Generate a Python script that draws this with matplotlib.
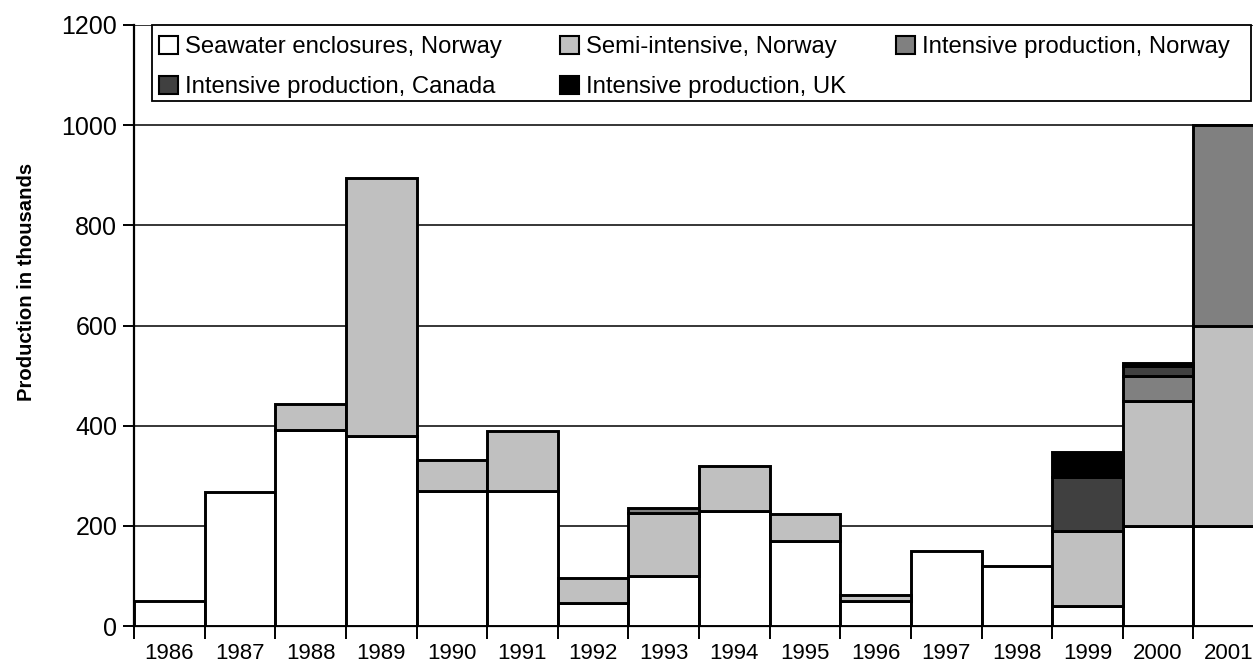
import matplotlib
matplotlib.use("Agg")
import matplotlib.pyplot as plt
import matplotlib.patches as mpatches
import numpy as np

plt.rcParams['font.family'] = ['Liberation Sans', 'DejaVu Sans']

years = [1986, 1987, 1988, 1989, 1990, 1991, 1992, 1993, 1994, 1995,
         1996, 1997, 1998, 1999, 2000, 2001]
seawater_norway = [50, 267, 392, 380, 270, 270, 45, 100, 230, 170, 50, 150, 120, 40, 200, 200]
semi_norway = [0, 0, 51, 515, 62, 120, 51, 125, 90, 53, 12, 0, 0, 150, 250, 400]
intensive_norway = [0, 0, 0, 0, 0, 0, 0, 10, 0, 0, 0, 0, 0, 0, 50, 400]
intensive_canada = [0, 0, 0, 0, 0, 0, 0, 0, 0, 0, 0, 0, 0, 107, 20, 0]
intensive_uk = [0, 0, 0, 0, 0, 0, 0, 0, 0, 0, 0, 0, 0, 51, 6, 0]

series = [
    ("Seawater enclosures, Norway", seawater_norway, "#ffffff"),
    ("Semi-intensive, Norway", semi_norway, "#c0c0c0"),
    ("Intensive production, Norway", intensive_norway, "#808080"),
    ("Intensive production, Canada", intensive_canada, "#404040"),
    ("Intensive production, UK", intensive_uk, "#000000"),
]

W, H = 1253, 669
fig = plt.figure(figsize=(W / 100, H / 100), dpi=100)
ax = fig.add_axes([134 / W, 1 - 626 / H, 1130 / W, 601 / H])

x = np.arange(len(years))
bottom = np.zeros(len(years))
handles = {}
for name, vals, col in series:
    v = np.array(vals, dtype=float)
    mask = v > 0
    ax.bar(x[mask], v[mask], width=1.0, bottom=bottom[mask], color=col,
           edgecolor="black", linewidth=2.1, zorder=3)
    handles[name] = mpatches.Patch(facecolor=col, edgecolor="black", linewidth=1.5, label=name)
    bottom += v

ax.set_xlim(-0.5, len(years) - 0.5)
ax.set_ylim(0, 1200)
ax.set_yticks(np.arange(0, 1201, 200))
ax.yaxis.grid(True, color="black", linewidth=1.1, zorder=0)
ax.set_axisbelow(True)

ax.set_xticks(np.arange(-0.5, len(years), 1.0))
ax.set_xticklabels([])
ax.set_xticks(x, minor=True)
ax.set_xticklabels([str(y) for y in years], minor=True, fontsize=16)
ax.tick_params(axis="x", which="major", length=9, width=1.4, direction="out")
ax.tick_params(axis="x", which="minor", length=0, pad=12.5)
ax.tick_params(axis="y", length=8, width=1.4, labelsize=18, pad=4)

for s in ["top", "right"]:
    ax.spines[s].set_visible(False)
for s in ["left", "bottom"]:
    ax.spines[s].set_linewidth(1.6)

ax.set_ylabel("Production in thousands", fontsize=14.6, fontweight="bold")
ax.yaxis.set_label_coords(-0.0867, 0.572)

# legend frame
fig.add_artist(mpatches.Rectangle((152 / W, 1 - 101 / H), (1251 - 152) / W, 76 / H,
                                  transform=fig.transFigure, facecolor="white",
                                  edgecolor="black", linewidth=1.3, zorder=5))

columns = [
    (["Seawater enclosures, Norway", "Intensive production, Canada"], 159),
    (["Semi-intensive, Norway", "Intensive production, UK"], 560),
    (["Intensive production, Norway"], 896),
]
for names, xpix in columns:
    lg = fig.legend(handles=[handles[n] for n in names], loc="upper left",
                    bbox_to_anchor=(xpix / W, 1 - 36 / H), frameon=False,
                    fontsize=17.2, borderpad=0, borderaxespad=0,
                    handlelength=0.78, handleheight=0.78, handletextpad=0.3,
                    labelspacing=0.74)
    lg.set_zorder(6)

fig.savefig("out.png", dpi=100)
